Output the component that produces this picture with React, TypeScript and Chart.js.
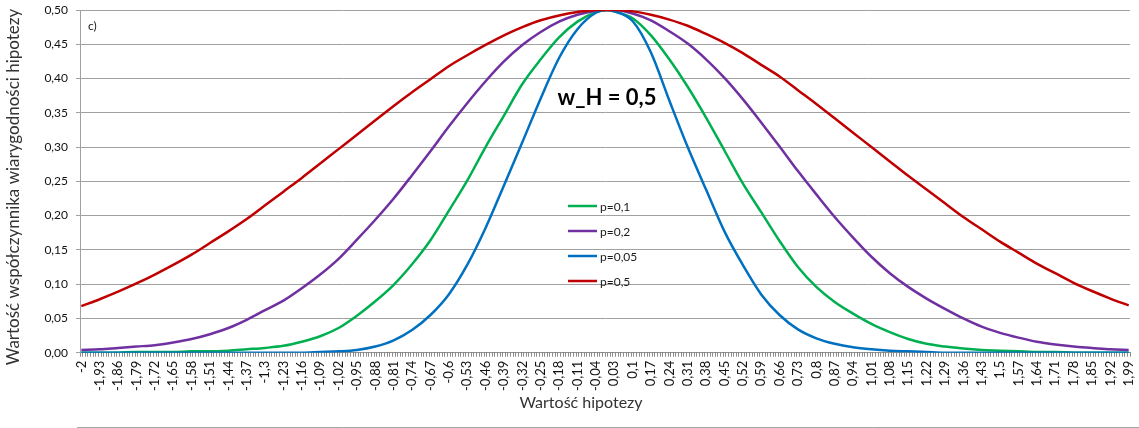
import React, { useEffect, useRef } from 'react';
import { Chart, registerables } from 'chart.js';

Chart.register(...registerables);
Chart.defaults.font.family = 'Lato, "Liberation Sans", sans-serif';

const yTitle = 'Wartość współczynnika wiarygodności hipotezy';
const xTitle = 'Wartość hipotezy';
const panelLabel = 'c)';
const annotationText = 'w_H = 0,5';

const seriesLabels = ['p=0,1', 'p=0,2', 'p=0,05', 'p=0,5'];
const seriesColors = ['#00B050', '#7030A0', '#0070C0', '#C00000'];

const fmt = (v: number): string => {
  const r = Math.round(v * 100) / 100;
  return (r === 0 ? '0' : String(r)).replace('.', ',');
};

// category axis: hypothesis values -2,00 ... 1,99 (step 0,01)
const categories: string[] = [];
for (let i = -200; i < 200; i++) categories.push(fmt(i / 100));

// x positions where the curves were read (tick-label positions + the peak)
const sampleX = [
  -2, -1.93, -1.86, -1.79, -1.72, -1.65, -1.58, -1.51, -1.44, -1.37, -1.3, -1.23, -1.16, -1.09, -1.02,
  -0.95, -0.88, -0.81, -0.74, -0.67, -0.6, -0.53, -0.46, -0.39, -0.32, -0.25, -0.18, -0.11, -0.04,
  0,
  0.03, 0.1, 0.17, 0.24, 0.31, 0.38, 0.45, 0.52, 0.59, 0.66, 0.73, 0.8, 0.87, 0.94, 1.01,
  1.08, 1.15, 1.22, 1.29, 1.36, 1.43, 1.5, 1.57, 1.64, 1.71, 1.78, 1.85, 1.92, 1.99,
];

const p010 = [
  0.000, 0.000, 0.000, 0.001, 0.001, 0.001, 0.002, 0.002, 0.003, 0.005, 0.007, 0.010, 0.016, 0.024, 0.036,
  0.054, 0.075, 0.099, 0.129, 0.164, 0.207, 0.251, 0.300, 0.346, 0.392, 0.428, 0.460, 0.483, 0.497,
  0.500,
  0.498, 0.488, 0.463, 0.428, 0.388, 0.343, 0.295, 0.247, 0.205, 0.163, 0.125, 0.096, 0.074, 0.057, 0.042,
  0.030, 0.020, 0.013, 0.009, 0.006, 0.004, 0.003, 0.002, 0.001, 0.001, 0.000, 0.000, 0.000, 0.000,
];

const p020 = [
  0.004, 0.005, 0.007, 0.009, 0.011, 0.015, 0.020, 0.027, 0.036, 0.048, 0.062, 0.076, 0.094, 0.114, 0.137,
  0.165, 0.194, 0.225, 0.259, 0.294, 0.330, 0.364, 0.396, 0.425, 0.449, 0.468, 0.483, 0.493, 0.499,
  0.500,
  0.500, 0.495, 0.485, 0.469, 0.451, 0.428, 0.401, 0.370, 0.336, 0.301, 0.265, 0.231, 0.198, 0.168, 0.140,
  0.116, 0.096, 0.079, 0.064, 0.050, 0.038, 0.029, 0.022, 0.016, 0.012, 0.009, 0.007, 0.005, 0.004,
];

const p005 = [
  0.000, 0.000, 0.000, 0.000, 0.000, 0.000, 0.000, 0.000, 0.000, 0.000, 0.000, 0.000, 0.000, 0.001, 0.002,
  0.004, 0.009, 0.018, 0.033, 0.055, 0.085, 0.128, 0.182, 0.244, 0.307, 0.371, 0.430, 0.472, 0.496,
  0.500,
  0.498, 0.484, 0.438, 0.368, 0.300, 0.238, 0.177, 0.128, 0.085, 0.055, 0.034, 0.021, 0.013, 0.008, 0.005,
  0.003, 0.002, 0.001, 0.000, 0.000, 0.000, 0.000, 0.000, 0.000, 0.000, 0.000, 0.000, 0.000, 0.000,
];

const p050 = [
  0.068, 0.078, 0.089, 0.101, 0.114, 0.128, 0.143, 0.160, 0.177, 0.195, 0.215, 0.235, 0.255, 0.276, 0.297,
  0.318, 0.339, 0.360, 0.380, 0.399, 0.418, 0.434, 0.449, 0.463, 0.475, 0.485, 0.492, 0.497, 0.500,
  0.500,
  0.500, 0.498, 0.493, 0.486, 0.477, 0.465, 0.452, 0.437, 0.420, 0.403, 0.383, 0.363, 0.342, 0.321, 0.300,
  0.279, 0.258, 0.238, 0.218, 0.198, 0.180, 0.162, 0.146, 0.130, 0.116, 0.102, 0.090, 0.079, 0.069,
];

const seriesValues = [p010, p020, p005, p050];
const drawOrder = [3, 2, 1, 0];

const textPlugin = {
  id: 'chartTexts',
  afterDraw(chart: any) {
    const ctx: CanvasRenderingContext2D = chart.ctx;
    const area = chart.chartArea;
    ctx.save();
    // y axis title
    ctx.fillStyle = '#333333';
    ctx.font = '17px Lato';
    ctx.textAlign = 'center';
    ctx.textBaseline = 'alphabetic';
    ctx.save();
    ctx.translate(19, 187);
    ctx.rotate(-Math.PI / 2);
    ctx.fillText(yTitle, 0, 0);
    ctx.restore();
    // x axis title
    ctx.font = '16px Lato';
    ctx.fillText(xTitle, 581, 408);
    // panel label
    ctx.textAlign = 'left';
    ctx.font = '12px Lato';
    ctx.fillStyle = '#1a1a1a';
    ctx.fillText(panelLabel, area.left + 8, 30);
    // annotation
    ctx.font = 'bold 22px Lato';
    ctx.textAlign = 'center';
    ctx.fillStyle = '#000000';
    ctx.fillText(annotationText, 607, 105);
    // legend
    ctx.textAlign = 'left';
    ctx.textBaseline = 'middle';
    ctx.font = '12px Lato';
    chart.data.datasets.forEach((ds: any, i: number) => {
      const y = 206 + i * 25;
      ctx.strokeStyle = ds.borderColor;
      ctx.lineWidth = 2.5;
      ctx.beginPath();
      ctx.moveTo(568, y);
      ctx.lineTo(597, y);
      ctx.stroke();
      ctx.fillStyle = '#1a1a1a';
      ctx.fillText(ds.label, 600, y + 1);
    });
    // top edge of the next panel below
    ctx.strokeStyle = '#a6a6a6';
    ctx.lineWidth = 1;
    ctx.beginPath();
    ctx.moveTo(77, 427.5);
    ctx.lineTo(1139, 427.5);
    ctx.stroke();
    ctx.restore();
  },
};

export default function App() {
  const canvasRef = useRef<HTMLCanvasElement | null>(null);

  useEffect(() => {
    if (!canvasRef.current) return;
    const datasets = seriesLabels.map((label, s) => ({
      label,
      data: sampleX.map((x, i) => ({ x: fmt(x), y: seriesValues[s][i] })),
      borderColor: seriesColors[s],
      backgroundColor: seriesColors[s],
      borderWidth: 2.5,
      pointRadius: 0,
      fill: false,
      cubicInterpolationMode: 'monotone' as const,
      order: drawOrder[s],
    }));

    const chart = new Chart(canvasRef.current, {
      type: 'line',
      data: { labels: categories, datasets },
      options: {
        responsive: false,
        animation: false,
        devicePixelRatio: 1,
        layout: { padding: { left: 0, top: 10, right: 9, bottom: 0 } },
        plugins: { legend: { display: false }, tooltip: { enabled: false } },
        scales: {
          x: {
            type: 'category',
            offset: true,
            grid: { offset: true, drawOnChartArea: false, drawTicks: true, tickLength: 4, color: '#8c8c8c' },
            border: { color: '#8c8c8c' },
            ticks: {
              autoSkip: false,
              minRotation: 90,
              maxRotation: 90,
              padding: 4,
              color: '#111111',
              font: { size: 13 },
              callback: (_v: any, i: number) => (i % 7 === 0 ? categories[i] : ''),
            },
            afterFit: (s: any) => {
              s.height = 75.3;
              s.paddingLeft = 0;
              s.paddingRight = 0;
            },
          },
          y: {
            min: 0,
            max: 0.5,
            ticks: {
              stepSize: 0.05,
              padding: 8,
              color: '#111111',
              font: { size: 12 },
              callback: (v: any) => Number(v).toFixed(2).replace('.', ','),
            },
            grid: { color: '#a0a0a0', tickLength: 4, drawTicks: true },
            border: { color: '#a0a0a0' },
            afterFit: (s: any) => {
              s.width = 80;
              s.paddingTop = 0;
              s.paddingBottom = 0;
            },
          },
        },
      },
      plugins: [textPlugin],
    });
    return () => chart.destroy();
  }, []);

  return (
    <div style={{ position: 'absolute', left: 0, top: 0, width: 1139, height: 428, background: '#ffffff' }}>
      <canvas ref={canvasRef} width={1139} height={428} style={{ display: 'block' }} />
    </div>
  );
}
